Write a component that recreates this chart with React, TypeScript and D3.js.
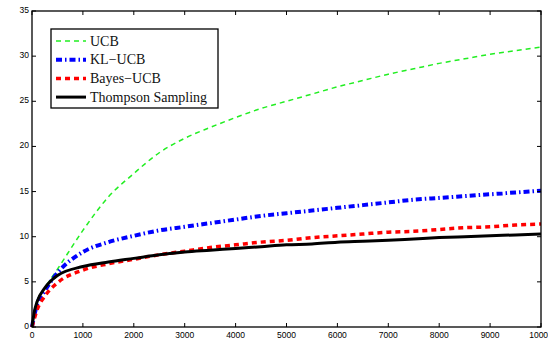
import { useRef, useEffect } from 'react';
import * as d3 from 'd3';

// horizon (x) sample points
const steps = [0, 50, 100, 250, 500, 1000, 1500, 2000, 2500, 3000, 3500, 4000, 4500, 5000, 5500, 6000, 6500, 7000, 7500, 8000, 8500, 9000, 9500, 10000];

const ucb = [0, 1.6, 2.8, 4.3, 6.4, 10.7, 14.4, 17.0, 19.3, 20.9, 22.1, 23.2, 24.2, 25.0, 25.8, 26.6, 27.3, 28.0, 28.6, 29.2, 29.7, 30.2, 30.6, 31.0];
const klUcb = [0, 1.4, 2.5, 4.0, 6.0, 8.3, 9.4, 10.1, 10.7, 11.1, 11.5, 11.9, 12.3, 12.6, 12.9, 13.2, 13.5, 13.8, 14.1, 14.3, 14.5, 14.7, 14.9, 15.1];
const bayesUcb = [0, 1.0, 1.9, 3.4, 4.9, 6.3, 7.0, 7.5, 8.0, 8.4, 8.8, 9.1, 9.4, 9.6, 9.9, 10.1, 10.3, 10.5, 10.6, 10.8, 11.0, 11.1, 11.3, 11.4];
const thompson = [0, 1.8, 2.8, 4.3, 5.7, 6.7, 7.2, 7.6, 8.0, 8.3, 8.5, 8.7, 8.9, 9.1, 9.2, 9.4, 9.5, 9.6, 9.75, 9.9, 10.0, 10.1, 10.2, 10.3];

const xTicks = [0, 1000, 2000, 3000, 4000, 5000, 6000, 7000, 8000, 9000, 10000];
const yTicks = [0, 5, 10, 15, 20, 25, 30, 35];

const series = [
  { name: 'UCB', values: ucb, color: '#22ee22', width: 1.5, dash: '5,4' },
  { name: 'KL\u2212UCB', values: klUcb, color: '#0000ff', width: 4, dash: '6,3,1.5,3' },
  { name: 'Bayes\u2212UCB', values: bayesUcb, color: '#ff0000', width: 3.5, dash: '5,4' },
  { name: 'Thompson Sampling', values: thompson, color: '#000000', width: 3, dash: null },
];

export default function App() {
  const ref = useRef<SVGSVGElement>(null);

  useEffect(() => {
    if (!ref.current) return;
    const svg = d3.select(ref.current);
    svg.selectAll('*').remove();

    const left = 32, right = 541, top = 11, bottom = 327;
    const x = d3.scaleLinear().domain([0, 10000]).range([left, right]);
    const y = d3.scaleLinear().domain([0, 35]).range([bottom, top]);

    const tickFont = 'Liberation Sans, Arial, sans-serif';

    // curves
    const line = d3.line<number>()
      .x((_, i) => x(steps[i]))
      .y(d => y(d))
      .curve(d3.curveMonotoneX);

    series.forEach(s => {
      svg.append('path')
        .datum(s.values)
        .attr('d', line)
        .attr('fill', 'none')
        .attr('stroke', s.color)
        .attr('stroke-width', s.width)
        .attr('stroke-dasharray', s.dash)
        .attr('stroke-linejoin', 'round');
    });

    // frame
    svg.append('rect')
      .attr('x', left).attr('y', top)
      .attr('width', right - left).attr('height', bottom - top)
      .attr('fill', 'none').attr('stroke', '#000').attr('stroke-width', 1.3);

    // inward ticks on all sides
    const tl = 4;
    xTicks.forEach(t => {
      svg.append('line').attr('x1', x(t)).attr('x2', x(t)).attr('y1', bottom).attr('y2', bottom - tl).attr('stroke', '#000');
      svg.append('line').attr('x1', x(t)).attr('x2', x(t)).attr('y1', top).attr('y2', top + tl).attr('stroke', '#000');
      svg.append('text')
        .attr('x', x(t)).attr('y', bottom + 11)
        .attr('text-anchor', 'middle')
        .attr('font-family', tickFont).attr('font-size', 8.5)
        .text(t);
    });
    yTicks.forEach(t => {
      svg.append('line').attr('x1', left).attr('x2', left + tl).attr('y1', y(t)).attr('y2', y(t)).attr('stroke', '#000');
      svg.append('line').attr('x1', right).attr('x2', right - tl).attr('y1', y(t)).attr('y2', y(t)).attr('stroke', '#000');
      svg.append('text')
        .attr('x', left - 3).attr('y', y(t) + 2)
        .attr('text-anchor', 'end')
        .attr('font-family', tickFont).attr('font-size', 8.5)
        .text(t);
    });

    // legend
    const lg = svg.append('g');
    lg.append('rect')
      .attr('x', 51).attr('y', 29).attr('width', 167).attr('height', 79)
      .attr('fill', '#fff').attr('stroke', '#000').attr('stroke-width', 1.3);
    series.forEach((s, i) => {
      const ly = 41 + i * 18.7;
      lg.append('line')
        .attr('x1', 56).attr('x2', 86).attr('y1', ly).attr('y2', ly)
        .attr('stroke', s.color).attr('stroke-width', s.width)
        .attr('stroke-dasharray', s.dash);
      lg.append('text')
        .attr('x', 90).attr('y', ly + 4.5)
        .attr('font-family', 'Liberation Serif, Times New Roman, serif')
        .attr('font-size', 14)
        .attr('fill', '#111')
        .text(s.name);
    });
  }, []);

  return (
    <svg ref={ref} width={548} height={340}
      style={{ position: 'fixed', left: 0, top: 0, background: '#fff' }} />
  );
}
